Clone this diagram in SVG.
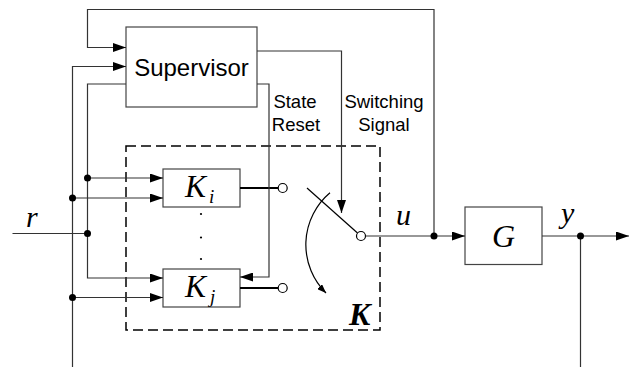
<svg xmlns="http://www.w3.org/2000/svg" width="629" height="367" viewBox="0 0 629 367">
<style>
.ln{fill:none;stroke:#333;stroke-width:1.2}
.bx{fill:#fff;stroke:#444;stroke-width:1.2}
.thk{fill:none;stroke:#000;stroke-width:2}
.dot{fill:#000}
.term{fill:#fff;stroke:#000;stroke-width:1.2}
.sans{font-family:"Liberation Sans",Arial,sans-serif;fill:#000}
.math{font-family:"Liberation Serif","Times New Roman",serif;font-style:italic;fill:#000}
</style>
<defs>
<marker id="ah" markerWidth="13" markerHeight="9" refX="13" refY="4.5" orient="auto" markerUnits="userSpaceOnUse">
<path d="M0,0 L13,4.5 L0,9 z" fill="#000"/>
</marker>
<marker id="ahs" markerWidth="9" markerHeight="7" refX="9" refY="3.5" orient="auto" markerUnits="userSpaceOnUse">
<path d="M0,0 L9,3.5 L0,7 z" fill="#000"/>
</marker>
</defs>

<g id="K-block">
<rect x="126" y="146" width="254" height="184" fill="none" stroke="#000" stroke-width="1.5" stroke-dasharray="10,5"/>
<text class="math" x="349" y="325" font-size="32" font-weight="bold">K</text>
</g>

<g id="supervisor">
<rect class="bx" x="126" y="27" width="131" height="80"/>
<text class="sans" x="191.5" y="75.5" font-size="24" text-anchor="middle">Supervisor</text>
</g>

<g id="Ki">
<rect class="bx" x="163" y="169" width="77" height="38"/>
<text class="math" x="185" y="197" font-size="31.5">K<tspan x="209" y="202.5" font-size="19">i</tspan></text>
</g>

<g id="ellipsis">
<circle class="dot" cx="201" cy="214" r="1.1"/>
<circle class="dot" cx="201" cy="237.5" r="1.1"/>
<circle class="dot" cx="201" cy="259" r="1.1"/>
</g>

<g id="Kj">
<rect class="bx" x="163" y="269" width="77" height="38"/>
<text class="math" x="185" y="297" font-size="31.5">K<tspan x="210" y="302.5" font-size="19">j</tspan></text>
</g>

<g id="switch">
<line x1="240" y1="188" x2="278.3" y2="188" class="thk"/>
<line x1="240" y1="288" x2="278.3" y2="288" class="thk"/>
<circle class="term" cx="282.7" cy="188" r="4.5"/>
<circle class="term" cx="282.7" cy="288" r="4.5"/>
<line x1="307" y1="188" x2="357.5" y2="233" stroke="#000" stroke-width="1.2"/>
<path d="M330,192.7 A68,68 0 0,0 326,293" fill="none" stroke="#000" stroke-width="1.2" marker-end="url(#ahs)"/>
<circle class="term" cx="361" cy="236" r="4.5"/>
</g>

<g id="G">
<rect class="bx" x="465" y="207" width="77" height="57.5"/>
<text class="math" x="503.5" y="247" font-size="32" text-anchor="middle">G</text>
</g>

<g id="connectors">
<polyline class="ln" points="434,236 434,9.5 87.5,9.5 87.5,47.5 126,47.5" marker-end="url(#ah)"/>
<polyline class="ln" points="72.5,367 72.5,66.5 126,66.5" marker-end="url(#ah)"/>
<polyline class="ln" points="126,84 87.5,84 87.5,278 163,278" marker-end="url(#ah)"/>
<line class="ln" x1="12.5" y1="233.5" x2="87.5" y2="233.5"/>
<line class="ln" x1="87.5" y1="178" x2="163" y2="178" marker-end="url(#ah)"/>
<line class="ln" x1="72.5" y1="198" x2="163" y2="198" marker-end="url(#ah)"/>
<line class="ln" x1="72.5" y1="297.5" x2="163" y2="297.5" marker-end="url(#ah)"/>
<polyline class="ln" points="257,51 341.5,51 341.5,213" marker-end="url(#ah)"/>
<polyline class="ln" points="257,84 269,84 269,277 240,277" marker-end="url(#ah)"/>
<line class="ln" x1="365.5" y1="236" x2="465" y2="236" marker-end="url(#ah)"/>
<line class="ln" x1="542" y1="236" x2="629" y2="236" marker-end="url(#ah)"/>
<line class="ln" x1="580.5" y1="236" x2="580.5" y2="367"/>
<circle class="dot" cx="87.5" cy="178" r="3.5"/>
<circle class="dot" cx="72.5" cy="198" r="3.5"/>
<circle class="dot" cx="87.5" cy="233.5" r="3.5"/>
<circle class="dot" cx="72.5" cy="297.5" r="3.5"/>
<circle class="dot" cx="434" cy="236" r="3.5"/>
<circle class="dot" cx="580.5" cy="236" r="3.5"/>
</g>

<g id="labels">
<text class="sans" x="295" y="108" font-size="18.5" text-anchor="middle">State</text>
<text class="sans" x="296" y="131" font-size="18.5" text-anchor="middle">Reset</text>
<text class="sans" x="384" y="108" font-size="18.5" text-anchor="middle">Switching</text>
<text class="sans" x="384" y="131" font-size="18.5" text-anchor="middle">Signal</text>
<text class="math" x="26" y="227" font-size="30">r</text>
<text class="math" x="396" y="225" font-size="30">u</text>
<text class="math" x="561" y="223" font-size="30">y</text>
</g>
</svg>
